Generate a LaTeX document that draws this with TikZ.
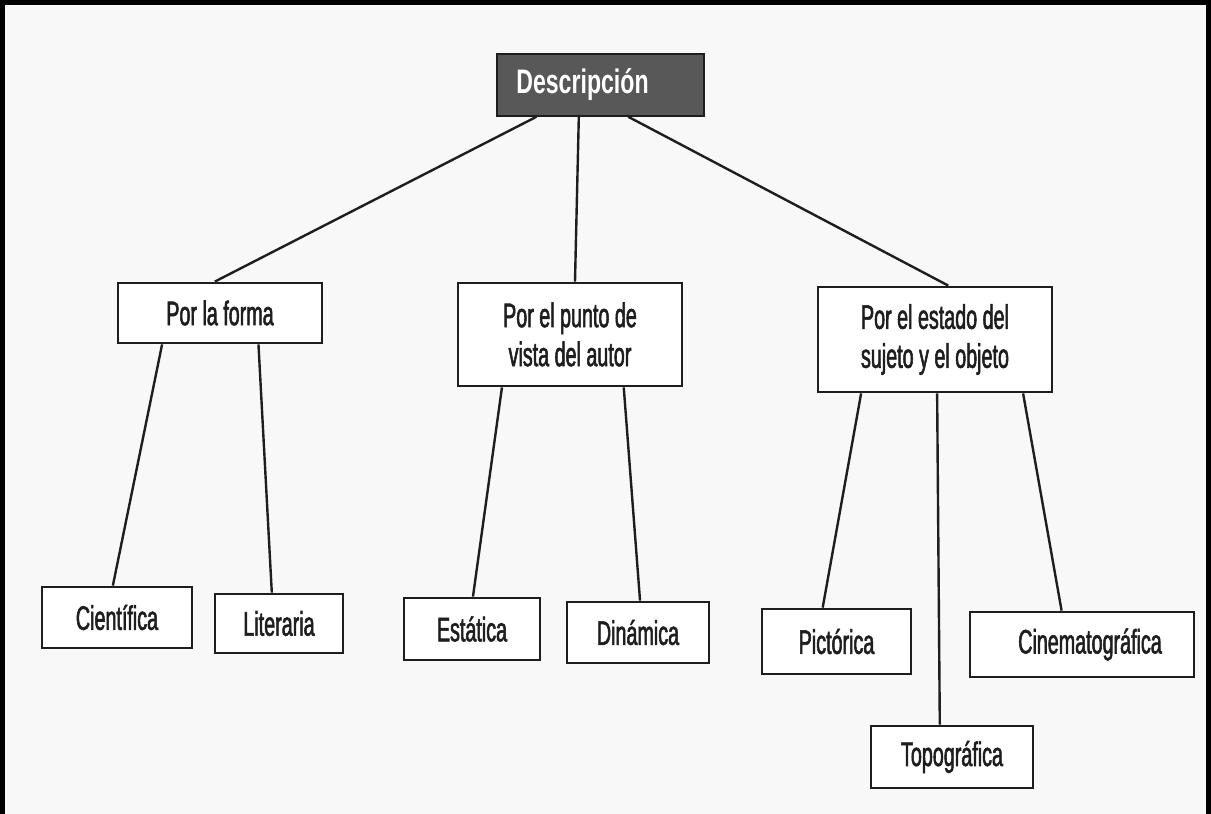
\documentclass[tikz,border=0pt]{standalone}
\usepackage{fontspec}
\setmainfont{Liberation Sans}[FakeStretch=0.58, FakeBold=1.6]
\newfontfamily\descfont{Liberation Sans}[FakeStretch=0.68]
\usetikzlibrary{calc}
\definecolor{ink}{RGB}{30,30,30}
\definecolor{paper}{RGB}{248,248,248}
\definecolor{descfill}{RGB}{88,88,88}
\tikzset{
  box/.style={draw=ink, line width=2.8pt, fill=white, inner sep=0pt, align=center,
    font=\fontsize{34}{39}\selectfont, text=ink},
  titlebox/.style={draw=ink, line width=1.5pt, fill=descfill, inner sep=0pt,
    font=\descfont\bfseries\fontsize{34}{38}\selectfont, text=white},
  link/.style={draw=ink, line width=2.4pt},
  frame/.style={draw=black, line width=5pt}
}
\begin{document}
\begin{tikzpicture}[x=1pt,y=-1pt]
\useasboundingbox (0,0) rectangle (1211,814);
\fill[paper] (0,0) rectangle (1211,814);
\draw[frame] (2.5,814) -- (2.5,2.5) -- (1208.5,2.5) -- (1208.5,814);

\node[titlebox, minimum width=207pt, minimum height=62pt] (desc) at (600.5,85) {Descripción\hspace*{36pt}};

\node[box, minimum width=204pt, minimum height=60pt] (forma) at (220,313) {Por la forma};
\node[box, minimum width=224pt, minimum height=103pt] (punto) at (570,334.5) {Por el punto de\\vista del autor};
\node[box, minimum width=234pt, minimum height=105pt] (estado) at (935,339.5) {Por el estado del\\sujeto y el objeto};

\node[box, minimum width=150pt, minimum height=61pt] (cient) at (117,617.5) {Científica};
\node[box, minimum width=128pt, minimum height=59pt] (liter) at (279,623.5) {Literaria};
\node[box, minimum width=136pt, minimum height=62pt] (estat) at (472,629) {Estática};
\node[box, minimum width=142pt, minimum height=61pt] (dinam) at (638,632.5) {Dinámica};
\node[box, minimum width=149pt, minimum height=65pt] (pict) at (836.5,641.5) {Pictórica};
\node[box, minimum width=224pt, minimum height=65pt] (cine) at (1082,644.5) {\hspace*{16pt}Cinematográfica};
\node[box, minimum width=162pt, minimum height=62pt] (topo) at (952,757) {Topográfica};

% connectors from Descripción
\draw[link] ($(desc.south west)!0.193!(desc.south east)$) -- ($(forma.north west)!0.475!(forma.north east)$);
\draw[link] ($(desc.south west)!0.396!(desc.south east)$) -- ($(punto.north west)!0.522!(punto.north east)$);
\draw[link] ($(desc.south west)!0.633!(desc.south east)$) -- ($(estado.north west)!0.556!(estado.north east)$);

% Por la forma
\draw[link] ($(forma.south west)!0.22!(forma.south east)$) -- ($(cient.north west)!0.473!(cient.north east)$);
\draw[link] ($(forma.south west)!0.686!(forma.south east)$) -- ($(liter.north west)!0.445!(liter.north east)$);

% Por el punto de vista
\draw[link] ($(punto.south west)!0.20!(punto.south east)$) -- ($(estat.north west)!0.507!(estat.north east)$);
\draw[link] ($(punto.south west)!0.737!(punto.south east)$) -- ($(dinam.north west)!0.514!(dinam.north east)$);

% Por el estado
\draw[link] ($(estado.south west)!0.188!(estado.south east)$) -- ($(pict.north west)!0.409!(pict.north east)$);
\draw[link] ($(estado.south west)!0.509!(estado.south east)$) -- ($(topo.north west)!0.426!(topo.north east)$);
\draw[link] ($(estado.south west)!0.872!(estado.south east)$) -- ($(cine.north west)!0.41!(cine.north east)$);
\end{tikzpicture}
\end{document}
